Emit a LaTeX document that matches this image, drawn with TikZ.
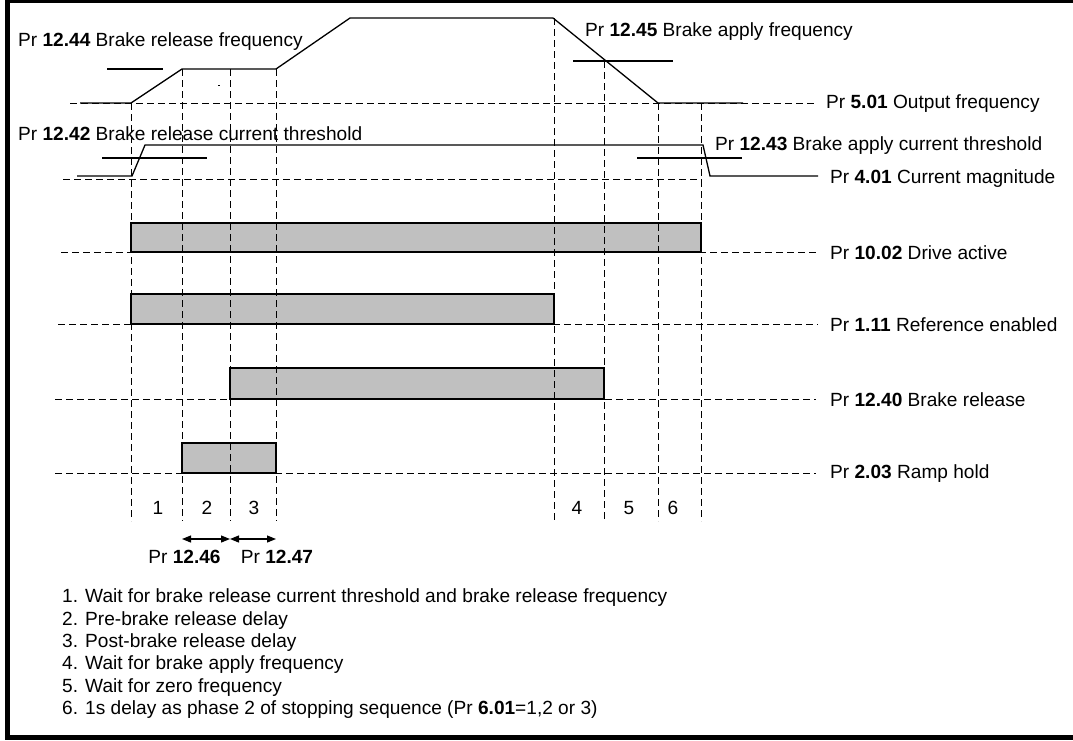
\documentclass[tikz,border=0pt]{standalone}
\usepackage{fontspec}
\setmainfont{Liberation Sans}
\usetikzlibrary{arrows.meta}
\definecolor{barfill}{RGB}{192,192,192}
\begin{document}
\begin{tikzpicture}[x=1pt,y=-1pt,
  trace/.style={line width=1.3pt, black},
  dsh/.style={line width=1pt, dash pattern=on 7pt off 4pt, black},
  thr/.style={line width=1.2pt, black},
  bar/.style={fill=barfill, draw=black, line width=1.3pt},
  lbl/.style={anchor=west, inner sep=0pt, font=\fontsize{19.1}{22}\selectfont},
  num/.style={inner sep=0pt, font=\fontsize{19.1}{22}\selectfont},
  dbl/.style={line width=1.2pt, {Triangle[length=9pt,width=7pt]}-{Triangle[length=9pt,width=7pt]}}]
\useasboundingbox (0,0) rectangle (1073,740);
% frame
\draw[line width=5pt] (7.5,0.5) rectangle (1090,737.5);

% bars
\draw[bar] (131,223) rectangle (701,252);
\draw[bar] (131,294) rectangle (554,324);
\draw[bar] (230,368) rectangle (604,399);
\draw[bar] (182,443) rectangle (276,473);

% horizontal dashed baselines
\draw[dsh] (70,103) -- (815,103);
\draw[dsh] (63,179) -- (702,179);
\draw[dsh] (61,252) -- (818,252);
\draw[dsh] (58,324) -- (818,324);
\draw[dsh] (55,399) -- (816,399);
\draw[dsh] (55,473) -- (816,473);

% vertical dashed lines
\foreach \xx/\yt in {131/103,182/69,230/69,276/69,554/18,604/61,658/103,701/103}
  \draw[dsh] (\xx,\yt) -- (\xx,521);

% output frequency trace
\draw[trace] (80,103) -- (131,103) -- (182,69) -- (276,69) -- (350,18) -- (553,18) -- (658,103) -- (743,103);
% current magnitude trace
\draw[trace] (77,176) -- (132,176) -- (145,145) -- (703,145) -- (710,176) -- (818,176);

% thresholds
\draw[thr] (107,69) -- (163,69);
\draw[thr] (573,61) -- (673,61);
\draw[thr] (102,158) -- (207,158);
\draw[thr] (637,158) -- (742,158);
\fill (218,84.5) rectangle (220,86);

% labels
\node[lbl] (l1244) at (18,42) {Pr \textbf{12.44} Brake release frequency};
\node[lbl] (l1242) at (18,134) {Pr \textbf{12.42} Brake release current threshold};
\node[lbl] (l1245) at (585,32) {Pr \textbf{12.45} Brake apply frequency};
\node[lbl] (l501) at (826,104) {Pr \textbf{5.01} Output frequency};
\node[lbl] (l1243) at (715,146) {Pr \textbf{12.43} Brake apply current threshold};
\node[lbl] (l401) at (830,179) {Pr \textbf{4.01} Current magnitude};
\node[lbl] (l1002) at (830,253) {Pr \textbf{10.02} Drive active};
\node[lbl] (l111) at (830,325) {Pr \textbf{1.11} Reference enabled};
\node[lbl] (l1240) at (830,400) {Pr \textbf{12.40} Brake release};
\node[lbl] (l203) at (830,474) {Pr \textbf{2.03} Ramp hold};

% phase numbers
\foreach \xx/\t in {158/1,207/2,254/3,577/4,629/5,673/6}
  \node[num] (p\t) at (\xx,508) {\t};

% delay arrows
\coordinate (a1) at (182,539);
\coordinate (a2) at (230,539);
\coordinate (a3) at (276,539);
\draw[dbl] (a1) -- (a2);
\draw[dbl] (a2) -- (a3);
\node[num] (d1246) at (184.5,557) {Pr \textbf{12.46}};
\node[num] (d1247) at (277,557) {Pr \textbf{12.47}};

% legend
\node[lbl] (n1) at (62,598) {1. Wait for brake release current threshold and brake release frequency};
\node[lbl] (n2) at (62,620.3) {2. Pre-brake release delay};
\node[lbl] (n3) at (62,642.6) {3. Post-brake release delay};
\node[lbl] (n4) at (62,664.9) {4. Wait for brake apply frequency};
\node[lbl] (n5) at (62,687.2) {5. Wait for zero frequency};
\node[lbl] (n6) at (62,709.5) {6. 1s delay as phase 2 of stopping sequence (Pr \textbf{6.01}=1,2 or 3)};
\end{tikzpicture}
\end{document}
